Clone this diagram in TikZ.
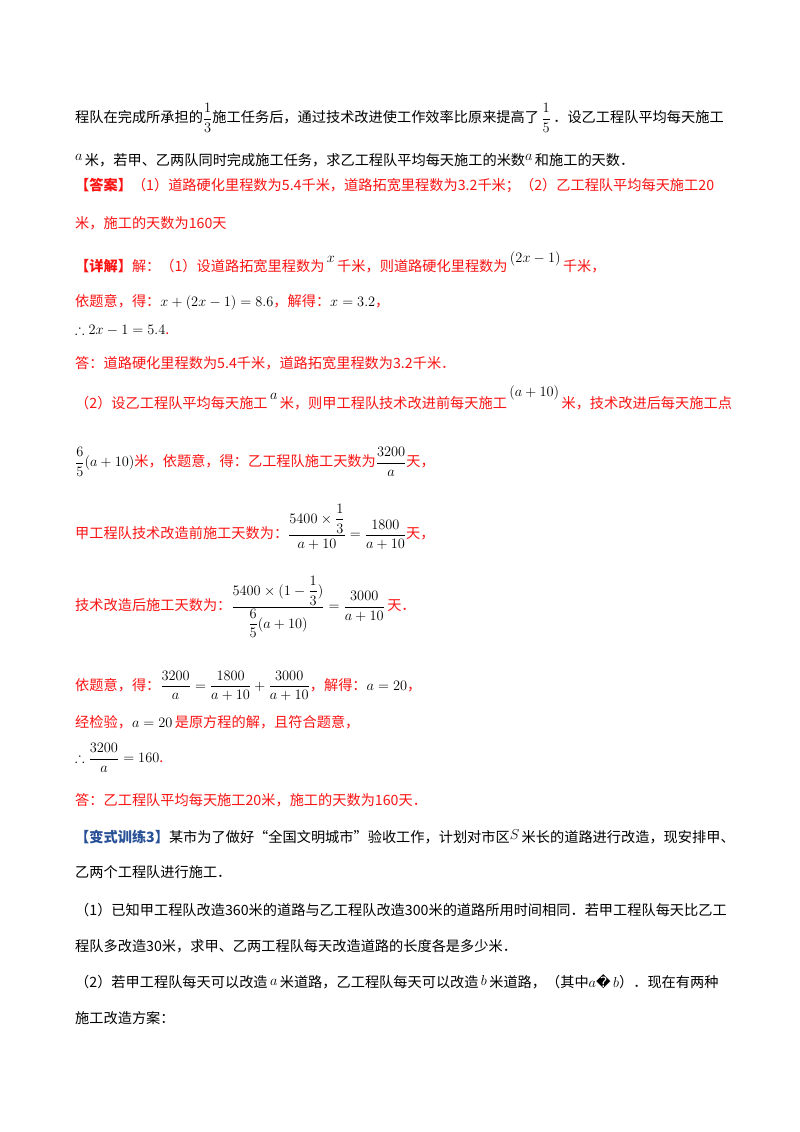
\documentclass[tikz,border=0pt]{standalone}
\usepackage{amsmath,amssymb}
\usepackage{fontspec}
\setmainfont{Noto Sans CJK SC}
\newfontfamily\dv{DejaVu Sans}
\definecolor{ansred}{RGB}{250,20,20}
\definecolor{hdblue}{RGB}{40,80,150}
\newcommand{\fs}{\fontsize{14.2}{16}\selectfont}
\newcommand{\R}[1]{\textcolor{ansred}{#1}}
\newcommand{\Rb}[1]{\textcolor{ansred}{\bfseries #1}}
\tikzset{t/.style={anchor=west,inner sep=0pt,font=\fs,text=black}}
\begin{document}
\begin{tikzpicture}[x=1pt,y=-1pt]
\useasboundingbox[fill=white] (0,0) rectangle (800,1132);
\node[t] (l1) at (75,118) {程队在完成所承担的$\dfrac{1}{3}$施工任务后，通过技术改进使工作效率比原来提高了$\,\dfrac{1}{5}\,$．设乙工程队平均每天施工};
\node[t] (l2) at (75,160) {\raisebox{5pt}{$a$}\,米，若甲、乙两队同时完成施工任务，求乙工程队平均每天施工的米数\raisebox{5pt}{$a$}\,和施工的天数．};
\node[t] (l3) at (75,186) {\Rb{【答案】}\R{（1）道路硬化里程数为5.4千米，道路拓宽里程数为3.2千米；（2）乙工程队平均每天施工20}};
\node[t] (l4) at (75,223) {\R{米，施工的天数为160天}};
\node[t] (l5) at (75,262) {\Rb{【详解】}\R{解：（1）设道路拓宽里程数为}\,\raisebox{9pt}{$x$}\,\R{千米，则道路硬化里程数为}\,\raisebox{9pt}{$(2x-1)$}\,\R{千米，}};
\node[t] (l6) at (75,302) {\R{依题意，得：}$x+(2x-1)=8.6$\R{，解得：}$x=3.2$\R{，}};
\node[t] (l7) at (75,330) {$\therefore 2x-1=5.4$\R{.}};
\node[t] (l8) at (75,363) {\R{答：道路硬化里程数为5.4千米，道路拓宽里程数为3.2千米．}};
\node[t] (l9) at (75,398) {\R{（2）设乙工程队平均每天施工}\,\raisebox{9pt}{$a$}\,\R{米，则甲工程队技术改进前每天施工}\,\raisebox{12pt}{$(a+10)$}\,\R{米，技术改进后每天施工点}};
\node[t] (l10) at (75,462) {$\dfrac{6}{5}(a+10)$\R{米，依题意，得：乙工程队施工天数为}$\dfrac{3200}{a}$\R{天，}};
\node[t] (l11) at (75,527) {\R{甲工程队技术改造前施工天数为：}$\dfrac{5400\times\dfrac{1}{3}}{a+10}=\dfrac{1800}{a+10}$\R{天，}};
\node[t] (l12) at (75,607) {\R{技术改造后施工天数为：}$\dfrac{5400\times(1-\dfrac{1}{3})}{\dfrac{6}{5}(a+10)}=\dfrac{3000}{a+10}$\,\R{天．}};
\node[t] (l13) at (75,686) {\R{依题意，得：}$\dfrac{3200}{a}=\dfrac{1800}{a+10}+\dfrac{3000}{a+10}$\R{，解得：}$a=20$\R{，}};
\node[t] (l14) at (75,722) {\R{经检验，}$a=20$\,\R{是原方程的解，且符合题意，}};
\node[t] (l15) at (75,758) {$\therefore\dfrac{3200}{a}=160$\R{.}};
\node[t] (l16) at (75,800) {\R{答：乙工程队平均每天施工20米，施工的天数为160天．}};
\node[t] (l17) at (75,837) {\textcolor{hdblue}{\bfseries 【变式训练3】}某市为了做好“全国文明城市”验收工作，计划对市区\raisebox{3pt}{$S$}\,米长的道路进行改造，现安排甲、};
\node[t] (l18) at (75,872) {乙两个工程队进行施工．};
\node[t] (l19) at (75,910) {（1）已知甲工程队改造360米的道路与乙工程队改造300米的道路所用时间相同．若甲工程队每天比乙工};
\node[t] (l20) at (75,946) {程队多改造30米，求甲、乙两工程队每天改造道路的长度各是多少米．};
\node[t] (l21) at (75,982) {（2）若甲工程队每天可以改造\,\raisebox{2pt}{$a$}\,米道路，乙工程队每天可以改造\,\raisebox{2pt}{$b$}\,米道路，（其中$a${\dv\char"FFFD}$\,b$）．现在有两种};
\node[t] (l22) at (75,1018) {施工改造方案：};
\end{tikzpicture}
\end{document}
